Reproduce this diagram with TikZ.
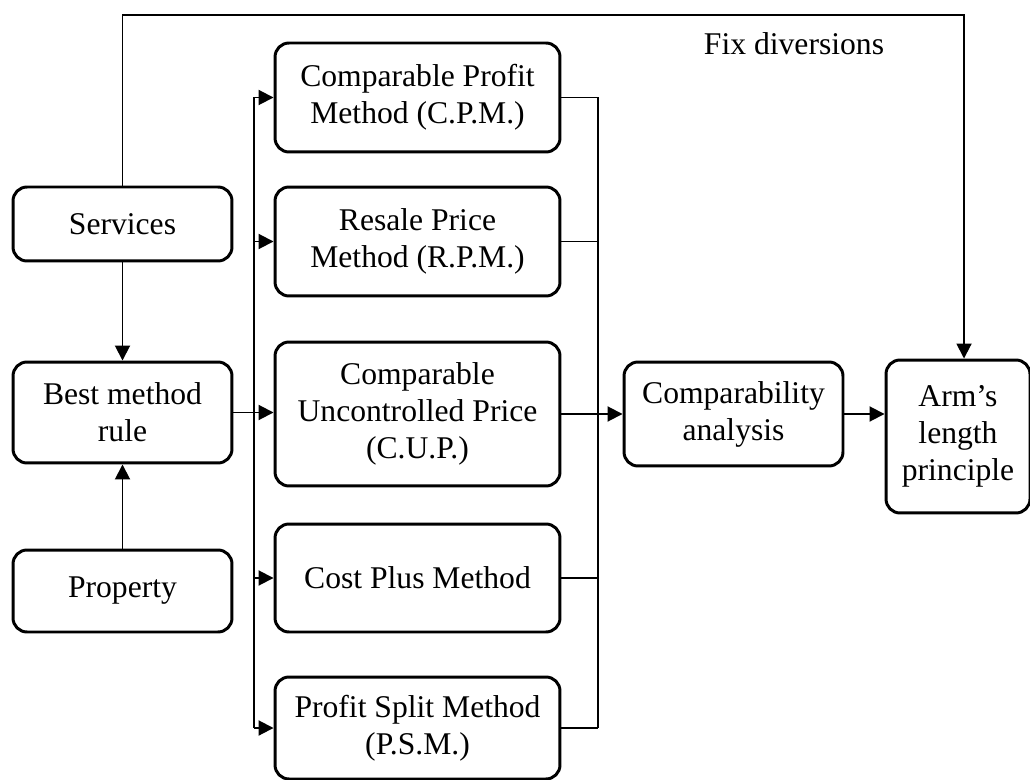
\documentclass[tikz,border=0pt]{standalone}
\usepackage{fontspec}
\setmainfont{Liberation Serif}
\usepackage{tikz}
\usetikzlibrary{arrows.meta}
\tikzset{>={Triangle[length=0.3cm,width=0.3cm]}}

\begin{document}
\begin{tikzpicture}[x=0.02cm, y=-0.02cm, font=\fontsize{18}{21}\selectfont,
		box/.style={draw, line width=1.7pt, rounded corners=0.28cm, align=center, inner sep=0pt},
		side/.style={box, minimum width=4.38cm},
		meth/.style={box, minimum width=5.7cm},
		every path/.style={line width=1.1pt}]
			\useasboundingbox (0,0) rectangle (1030,780);
			\node (serv) at (122.5,224) [side, minimum height=1.48cm] {Services};
			\node (best) at (122.5,412.5) [side, minimum height=2.02cm] {Best method\\rule};
			\node (prop) at (122.5,591) [side, minimum height=1.64cm] {Property};
			\node (cpm) at (417.5,97.5) [meth, minimum height=2.18cm] {Comparable Profit\\Method (C.P.M.)};
			\node (rpm) at (417.5,241.5) [meth, minimum height=2.18cm] {Resale Price\\Method (R.P.M.)};
			\node (cup) at (417.5,414) [meth, minimum height=2.88cm] {Comparable\\Uncontrolled Price\\(C.U.P.)};
			\node (cost) at (417.5,578) [meth, minimum height=2.16cm] {Cost Plus Method};
			\node (psm) at (417.5,728) [meth, minimum height=2.04cm] {Profit Split Method\\(P.S.M.)};
			\node (comp) at (733.5,414) [box, minimum width=4.38cm, minimum height=2.08cm] {Comparability\\analysis};
			\node (arm) at (958,436.5) [box, minimum width=2.88cm, minimum height=3.06cm] {Arm's\\length\\principle};
			\node (fix) at (794,44) {Fix diversions};
			\coordinate (lt) at (254,97.5);
			\coordinate (lb) at (254,728);
			\coordinate (rt) at (598,97.5);
			\coordinate (rb) at (598,728);
			\coordinate (top) at (964,15);
			\draw[->] (serv) -- (best);
			\draw[->] (prop) -- (best);
			\draw[->] (best) -- (best -| cup.west);
			\draw (lt) -- (lb);
			\foreach \m in {cpm,rpm,cost,psm}
				\draw[->] (lt |- \m) -- (\m);
			\draw (rt) -- (rb);
			\foreach \m in {cpm,rpm,cup,cost,psm}
				\draw (\m) -- (\m -| rt);
			\draw[->] (cup -| rt) -- (comp);
			\draw[->] (comp) -- (comp -| arm.west);
			\draw[->] (serv) |- (top) -- (top |- arm.north);
		\end{tikzpicture}
\end{document}
